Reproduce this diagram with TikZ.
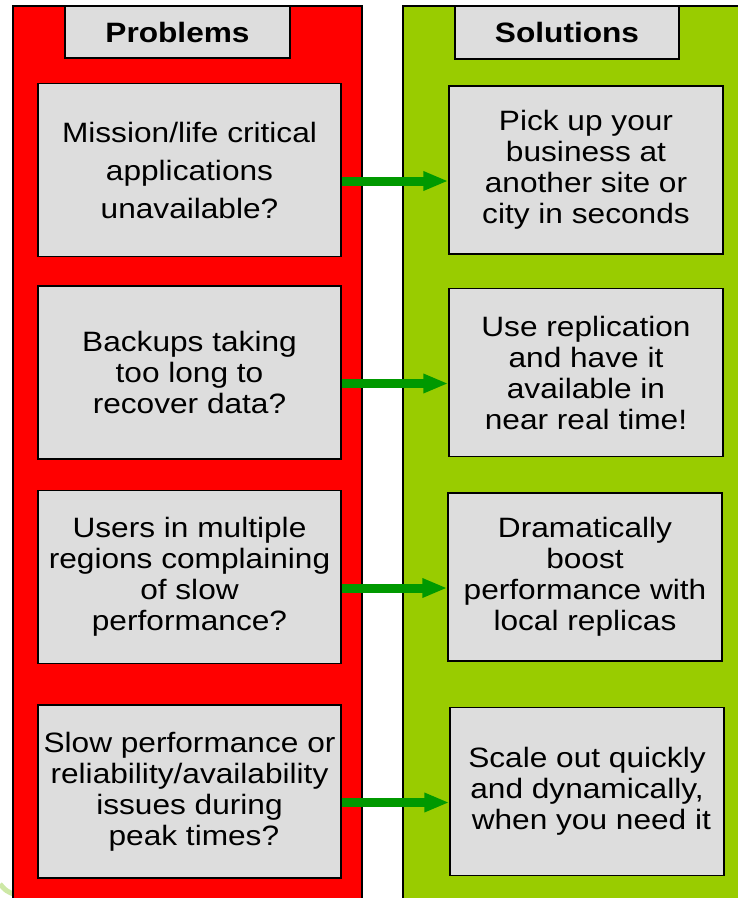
\documentclass[tikz,border=0pt]{standalone}
\usepackage{fontspec}
\setmainfont{Liberation Sans}[FakeStretch=1.13]
\usepackage{tikz}
\usetikzlibrary{positioning, arrows.meta}

\definecolor{redcol}{HTML}{FF0000}
\definecolor{greencol}{HTML}{99CC00}
\definecolor{boxgray}{HTML}{DDDDDD}
\definecolor{flowgreen}{HTML}{009900}
\definecolor{wmark}{HTML}{CDE8A6}

\begin{document}
\begin{tikzpicture}[
    x=1pt, y=-1pt,
    on grid,
    panel/.style={draw=black, line width=1.5pt},
    card/.style={draw=black, line width=1.5pt, fill=boxgray, align=center,
        font=\fontsize{28}{31}\selectfont, inner sep=0pt},
    prob/.style={card, minimum width=303pt, minimum height=173pt},
    sol/.style={card, minimum width=274pt, minimum height=168pt},
    head/.style={card, font=\fontsize{28}{31}\selectfont\bfseries,
        minimum width=225pt, minimum height=52pt},
    flow/.style={draw=flowgreen, line width=9pt,
        -{Triangle[length=25pt, width=18pt]}}
]
    \useasboundingbox (0,0) rectangle (738,898);
    \clip (0,0) rectangle (738,898);

    % faint logo behind
    \draw[wmark, line width=5pt] (0,884) .. controls (6,891) .. (16,895);

    % columns
    \draw[panel, fill=redcol] (13,6) rectangle (362,915);
    \draw[panel, fill=greencol] (403,6) rectangle (750,915);

    \node[head] (probs) at (177.5,32) {Problems};
    \node[head, minimum width=224pt, minimum height=53pt] (sols) at (567,32.5) {Solutions};

    \node[prob, font=\fontsize{28}{38}\selectfont] (p1) at (189.5,170)
        {Mission/life critical\\applications\\unavailable?};
    \node[prob] (p2) [below=202.5pt of p1] {Backups taking\\too long to\\recover data?};
    \node[prob] (p3) [below=204.5pt of p2] {Users in multiple\\regions complaining\\of slow\\performance?};
    \node[prob] (p4) [below=214.5pt of p3] {Slow performance or\\reliability/availability\\issues during\\\ peak times?};

    \node[sol] (s1) [right=396.5pt of p1] {Pick up your\\business at\\another site or\\city in seconds};
    \node[sol] (s2) [right=396.5pt of p2] {Use replication\\and have it\\available in\\near real time!};
    \node[sol] (s3) [right=395.5pt of p3] {Dramatically\\boost\\performance with\\local replicas};
    \node[sol] (s4) [right=397.5pt of p4] {Scale out quickly\\and dynamically,\\\ when you need it};

    \foreach \i in {1,...,4}
        \draw[flow] ([yshift=-11pt]p\i.east) -- ([yshift=-11pt]p\i.east -| s\i.west);
\end{tikzpicture}
\end{document}
